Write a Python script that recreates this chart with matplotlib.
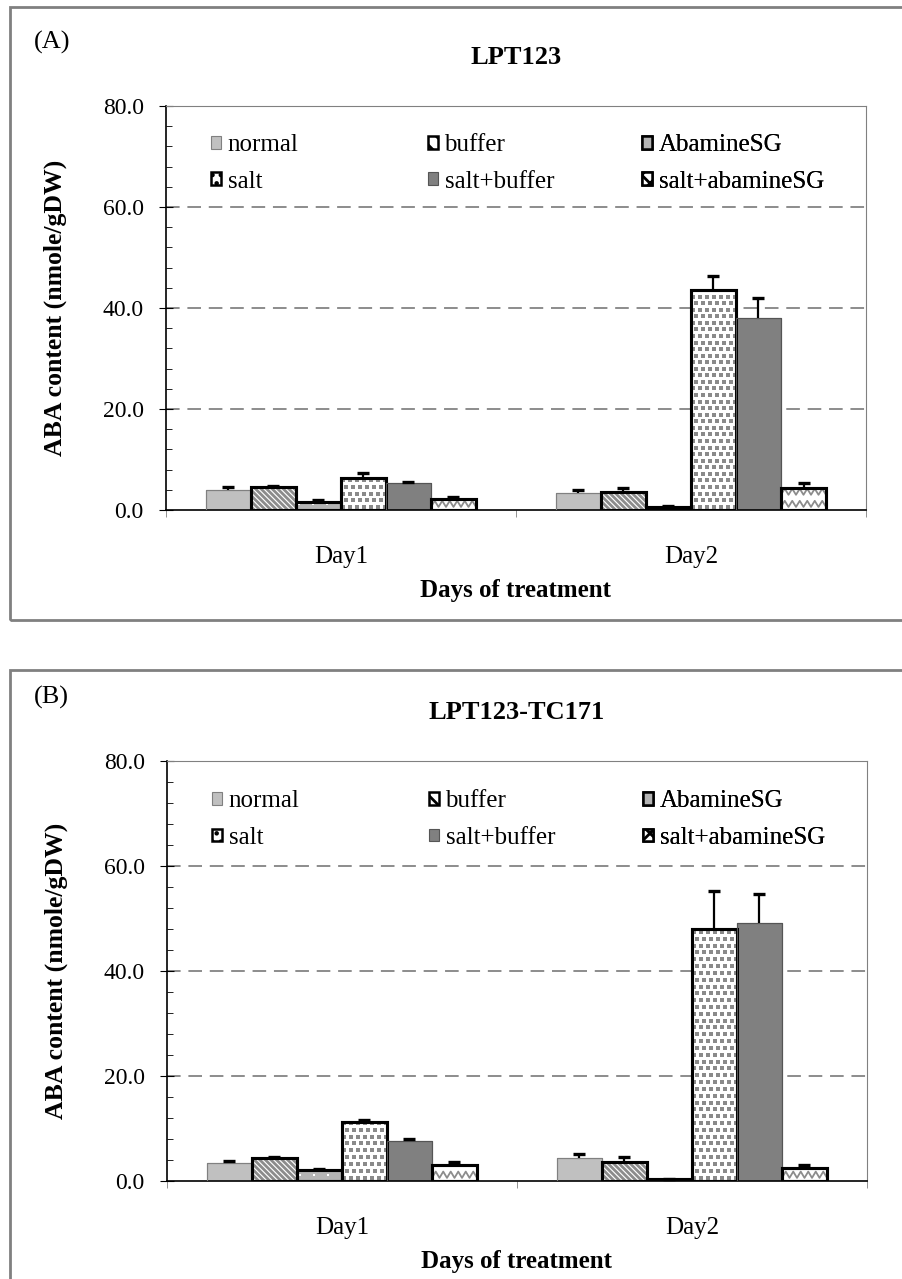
import numpy as np
import matplotlib
matplotlib.use('Agg')
import matplotlib.pyplot as plt
from matplotlib.patches import Rectangle
from matplotlib.ticker import MultipleLocator, FormatStrFormatter

plt.rcParams['font.family'] = ['Liberation Serif', 'DejaVu Serif']
plt.rcParams['hatch.linewidth'] = 2.0

days = ["Day1", "Day2"]
treatments = ["normal", "buffer", "AbamineSG", "salt", "salt+buffer", "salt+abamineSG"]

# ABA content (nmole/gDW), rows = treatments, columns = days
lpt123_mean = [[4.0, 3.3], [4.5, 3.6], [1.5, 0.5], [6.3, 43.6], [5.3, 38.1], [2.2, 4.3]]
lpt123_err = [[0.5, 0.7], [0.2, 0.7], [0.5, 0.35], [1.1, 2.7], [0.2, 3.8], [0.3, 1.1]]

tc171_mean = [[3.5, 4.3], [4.4, 3.7], [2.1, 0.3], [11.2, 48.0], [7.6, 49.2], [3.0, 2.4]]
tc171_err = [[0.4, 0.8], [0.2, 0.8], [0.2, 0.1], [0.4, 7.2], [0.4, 5.5], [0.6, 0.6]]

# fill, pattern, pattern colour, edge colour, edge width
styles = [
    ("#c0c0c0", None, None, "#808080", 0.8),
    ("white", "\\" * 6, "#8c8c8c", "black", 2.2),
    ("#b4b4b4", "sparse_dots", "white", "black", 2.2),
    ("white", "dense_dots", "#8a8a8a", "black", 2.2),
    ("#808080", None, None, "#555555", 0.8),
    ("white", "zigzag", "#8c8c8c", "black", 2.2),
]


def zigzag(ax, bar, color):
    x0, y0 = bar.get_x(), bar.get_y()
    w, h = bar.get_width(), bar.get_height()
    step = w / 6.0
    amp = 0.6
    xs = np.arange(x0 - step, x0 + w + step, step / 2.0)
    for row in np.arange(y0 + 1.2, y0 + h + 2.4, 2.4):
        ys = row + amp * np.where(np.arange(len(xs)) % 2 == 0, -1, 1)
        ln, = ax.plot(xs, ys, color=color, lw=1.3, zorder=3)
        ln.set_clip_path(bar)


def dots(ax, bar, color, dx, dy, size):
    # staggered grid of small squares, clipped to the bar
    x0, y0 = bar.get_x(), bar.get_y()
    w, h = bar.get_width(), bar.get_height()
    px, py = [], []
    for r, yy in enumerate(np.arange(y0 + dy / 2, y0 + h + dy, dy)):
        shift = dx / 2 if r % 2 else 0.0
        for xx in np.arange(x0 + dx / 4 + shift, x0 + w + dx, dx):
            px.append(xx)
            py.append(yy)
    ln, = ax.plot(px, py, ls="none", marker="s", ms=size, mew=0,
                  color=color, zorder=3)
    ln.set_clip_path(bar)


def panel(ax, means, errs, title):
    means = np.array(means)
    errs = np.array(errs)
    centers = np.arange(len(days)) + 0.5
    w = 0.1286
    ax.set_xlim(0, 2)
    ax.set_ylim(0, 80)
    handles = []
    for i, name in enumerate(treatments):
        fill, pat, pcol, ecol, elw = styles[i]
        xpos = centers + (i - 2.5) * w
        bars = ax.bar(xpos, means[i], w, color=fill, edgecolor=ecol,
                      linewidth=elw, zorder=2, label=name)
        for b in bars:
            if pat == "zigzag":
                zigzag(ax, b, pcol)
            elif pat == "dense_dots":
                dots(ax, b, pcol, 0.02, 1.3, 2.7)
            elif pat == "sparse_dots":
                dots(ax, b, pcol, 0.04, 2.2, 1.6)
        if pat and pat.startswith("\\"):
            ax.bar(xpos, means[i], w, color="none", edgecolor=pcol,
                   linewidth=0, hatch=pat, zorder=2.5)
        # outline on top of the pattern
        ax.bar(xpos, means[i], w, color="none", edgecolor=ecol,
               linewidth=elw, zorder=4)
        # upper error bars only
        tops = means[i] + errs[i]
        ax.vlines(xpos, means[i], tops, color="black", lw=1.6, zorder=5)
        ax.plot(xpos, tops, ls="none", marker="_", ms=8.5, mew=2.4,
                color="black", zorder=5)
        h = Rectangle((0, 0), 1, 1, facecolor=fill, edgecolor=ecol,
                      linewidth=min(elw, 1.8),
                      hatch={1: "\\\\", 3: "..", 5: "xx"}.get(i))
        handles.append(h)

    ax.set_xticks(centers)
    ax.set_xticklabels(days, fontsize=18)
    ax.set_xticks([0, 1, 2], minor=True)
    ax.tick_params(axis="x", which="major", length=0, pad=26)
    ax.tick_params(axis="x", which="minor", length=5, direction="out",
                   color="#808080")
    ax.yaxis.set_major_locator(MultipleLocator(20))
    ax.yaxis.set_minor_locator(MultipleLocator(4))
    ax.yaxis.set_major_formatter(FormatStrFormatter("%.1f"))
    ax.tick_params(axis="y", which="major", direction="inout", length=10,
                   labelsize=17, pad=11)
    ax.tick_params(axis="y", which="minor", direction="in", length=4)
    for v in (20, 40, 60):
        ax.axhline(v, color="#8c8c8c", lw=1.4, ls=(0, (7, 4)), zorder=1)
    ax.spines["top"].set_color("#808080")
    ax.spines["right"].set_color("#808080")
    ax.spines["left"].set_linewidth(1.2)
    ax.spines["bottom"].set_linewidth(1.2)
    ax.set_ylabel("ABA content (nmole/gDW)", fontsize=18.5, fontweight="bold",
                  labelpad=26)
    ax.set_xlabel("Days of treatment", fontsize=18, fontweight="bold",
                  labelpad=8)
    ax.set_title(title, fontsize=19, fontweight="bold", pad=30)

    # legend: three columns of two entries, equal column widths
    for c, xa in enumerate((0.064, 0.374, 0.68)):
        idx = [c, c + 3]
        leg = ax.legend([handles[k] for k in idx], [treatments[k] for k in idx],
                        frameon=False, fontsize=18, loc="upper left",
                        bbox_to_anchor=(xa, 0.93), borderaxespad=0,
                        borderpad=0, handlelength=0.42, handleheight=0.42,
                        handletextpad=0.25, labelspacing=0.58)
        ax.add_artist(leg)


fig = plt.figure(figsize=(9.03, 12.79), dpi=100)
ax_a = fig.add_axes([0.1838, 0.6013, 0.7752, 0.3159])
ax_b = fig.add_axes([0.1849, 0.0766, 0.7752, 0.3284])

panel(ax_a, lpt123_mean, lpt123_err, "LPT123")
panel(ax_b, tc171_mean, tc171_err, "LPT123-TC171")

# outer frames around the two panels
fig.patches.append(Rectangle((0.011, 0.5152), 1.0, 0.479, transform=fig.transFigure,
                             fill=False, edgecolor="#808080", lw=2.0))
fig.patches.append(Rectangle((0.011, -0.1), 1.0, 0.576, transform=fig.transFigure,
                             fill=False, edgecolor="#808080", lw=2.0))
fig.text(0.037, 0.967, "(A)", fontsize=19, va="center")
fig.text(0.037, 0.455, "(B)", fontsize=19, va="center")

fig.savefig("out.png", dpi=100)
